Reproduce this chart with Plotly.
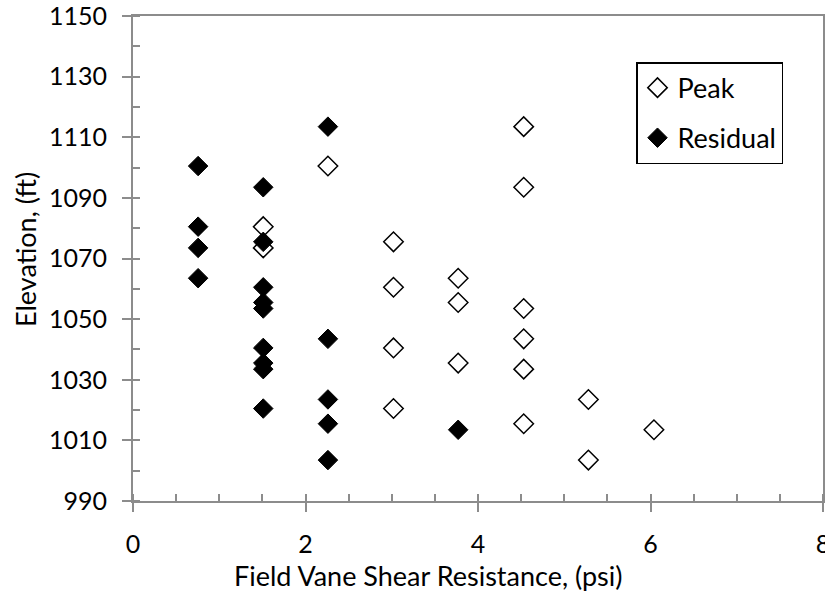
import plotly.graph_objects as go

# Peak field vane shear resistance (psi) and elevation (ft)
peak_x = [2.26, 1.51, 1.51, 3.02, 3.02, 4.53, 4.53, 3.77, 3.02, 3.02,
          3.77, 4.53, 4.53, 3.77, 4.53, 5.28, 4.53, 6.04, 5.28]
peak_y = [1100.5, 1080.5, 1073.5, 1075.5, 1060.5, 1113.5, 1093.5, 1063.5, 1040.5, 1020.5,
          1055.5, 1053.5, 1043.5, 1035.5, 1033.5, 1023.5, 1015.5, 1013.5, 1003.5]

# Residual field vane shear resistance (psi) and elevation (ft)
resid_x = [0.755, 0.755, 0.755, 0.755, 1.51, 1.51, 1.51, 2.26, 1.51, 1.51,
           1.51, 1.51, 1.51, 1.51, 2.26, 2.26, 2.26, 2.26, 3.77]
resid_y = [1100.5, 1080.5, 1073.5, 1063.5, 1093.5, 1075.5, 1060.5, 1113.5, 1055.5, 1053.5,
           1040.5, 1035.5, 1033.5, 1020.5, 1043.5, 1023.5, 1015.5, 1003.5, 1013.5]

x_ticks = [0, 2, 4, 6, 8]
y_ticks = [990, 1010, 1030, 1050, 1070, 1090, 1110, 1130, 1150]

x_title = "Field Vane Shear Resistance, (psi)"
y_title = "Elevation, (ft)"

FONT = "Lato, Calibri, Carlito, sans-serif"
AXIS_COLOR = "#8c8c8c"

fig = go.Figure()
fig.add_trace(go.Scatter(
    x=peak_x, y=peak_y, mode="markers", name="Peak", legendgroup="a",
    marker=dict(symbol="diamond", size=15, color="white",
                line=dict(color="black", width=1.5)),
))
fig.add_trace(go.Scatter(
    x=resid_x, y=resid_y, mode="markers", name="Residual", legendgroup="b",
    marker=dict(symbol="diamond", size=15, color="black",
                line=dict(color="black", width=1)),
))

fig.update_layout(
    width=825, height=592,
    margin=dict(l=133, r=2, t=16, b=91),
    paper_bgcolor="white", plot_bgcolor="white",
    font=dict(family=FONT, size=25, color="black"),
    showlegend=True,
    legend=dict(
        x=0.729, y=0.905, xanchor="left", yanchor="top",
        bordercolor="black", borderwidth=1.5, bgcolor="white",
        font=dict(size=27), tracegroupgap=12, traceorder="grouped",
    ),
    xaxis=dict(
        range=[0, 8], tickvals=x_ticks, ticktext=[str(v) for v in x_ticks],
        showgrid=False, zeroline=False, automargin=False,
        showline=True, linecolor=AXIS_COLOR, linewidth=2, mirror=True,
        ticks="outside", ticklen=9, tickcolor=AXIS_COLOR, tickwidth=1.5,
        minor=dict(dtick=0.5, ticks="inside", ticklen=7, tickcolor=AXIS_COLOR, tickwidth=1.5),
        ticklabelstandoff=11, ticklabeloverflow="allow",
    ),
    yaxis=dict(
        range=[990, 1150], tickvals=y_ticks, ticktext=[str(v) for v in y_ticks],
        showgrid=False, zeroline=False, automargin=False,
        showline=True, linecolor=AXIS_COLOR, linewidth=2, mirror=True,
        ticks="outside", ticklen=9, tickcolor=AXIS_COLOR, tickwidth=1.5,
        minor=dict(dtick=10, ticks="inside", ticklen=7, tickcolor=AXIS_COLOR, tickwidth=1.5),
        ticklabelstandoff=10, ticklabeloverflow="allow",
    ),
    annotations=[
        dict(text=x_title, xref="paper", yref="paper", x=0.4275, y=-0.1526,
             xanchor="center", yanchor="middle", showarrow=False, font=dict(size=27)),
        dict(text=y_title, xref="paper", yref="paper", x=-0.1565, y=0.5175,
             xanchor="center", yanchor="middle", showarrow=False, textangle=-90,
             font=dict(size=27)),
    ],
)

fig.write_html(
    "out.html",
    config={"displayModeBar": False},
    post_script="document.body.style.margin='0';document.body.style.overflow='hidden';",
)
